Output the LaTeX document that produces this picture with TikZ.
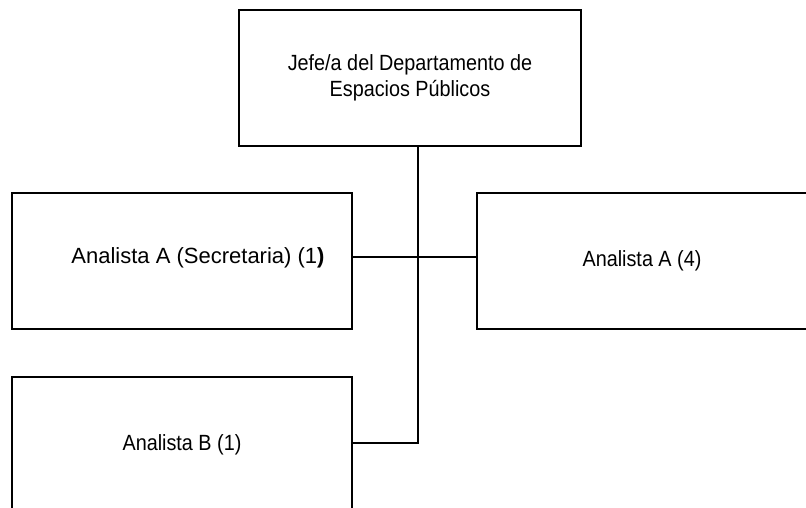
\documentclass[tikz,border=0pt]{standalone}
\usepackage{fontspec}
\setmainfont{Liberation Sans}[FakeStretch=0.9]
\newfontfamily\widefont{Liberation Sans}[FakeStretch=1.0]
\begin{document}
\begin{tikzpicture}[x=1pt,y=-1pt,
  box/.style={draw=black,line width=2.2pt,rectangle,inner sep=0pt,align=center,
    font=\fontsize{22}{26}\selectfont},
  conn/.style={draw=black,line width=1.6pt}]
\clip (0,0) rectangle (806,508);
\fill[white] (0,0) rectangle (806,508);
\node[box,minimum width=342pt,minimum height=136pt] (jefe) at (410,78)
  {Jefe/a del Departamento de\\Espacios Públicos};
\node[box,minimum width=340pt,minimum height=136pt,
  label={[xshift=16pt,yshift=3pt,font=\widefont\fontsize{22}{26}\selectfont]center:Analista A (Secretaria) (1\textbf{)}}] (secr) at (182,261) {};
\node[box,minimum width=330pt,minimum height=136pt] (anaA) at (642,261) {\raisebox{3pt}{Analista A (4)}};
\node[box,minimum width=340pt,minimum height=136pt] (anaB) at (182,445) {\raisebox{3pt}{Analista B (1)}};
\draw[conn] ([xshift=8pt]jefe.south) |- ([yshift=2pt]anaB.east);
\draw[conn] ([yshift=4pt]secr.east) -- ([yshift=4pt]anaA.west);
\end{tikzpicture}
\end{document}
